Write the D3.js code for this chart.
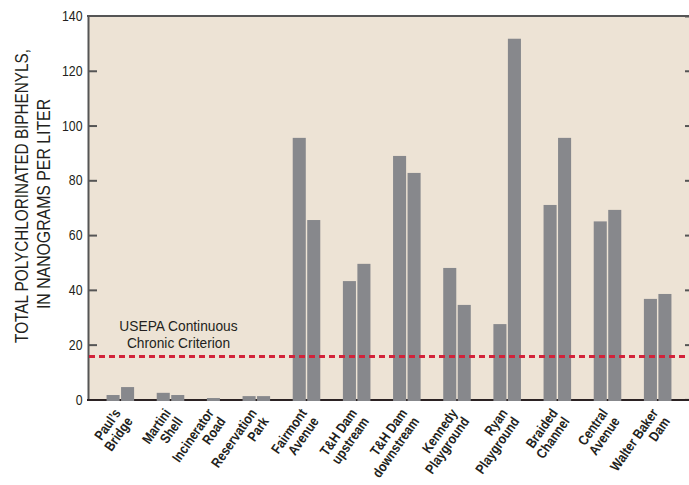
<!DOCTYPE html>
<html><head><meta charset="utf-8">
<script src="https://cdn.jsdelivr.net/npm/d3@7"></script>
<style>
html,body{margin:0;padding:0;background:#fff;}
svg{display:block;font-family:"Liberation Sans",Arial,sans-serif;}
</style></head><body><svg id="chart" width="689" height="485"></svg>
<script>
// Sampling sites (two-line labels) and total PCB concentrations, ng/L
const sites = [
  ["Paul\u2019s", "Bridge"],
  ["Martini", "Shell"],
  ["Incinerator", "Road"],
  ["Reservation", "Park"],
  ["Fairmont", "Avenue"],
  ["T&H Dam", "upstream"],
  ["T&H Dam", "downstream"],
  ["Kennedy", "Playground"],
  ["Ryan", "Playground"],
  ["Braided", "Channel"],
  ["Central", "Avenue"],
  ["Walter Baker", "Dam"]
];
const sample1 = [1.6, 2.4, 0.5, 1.2, 95.5, 43.2, 88.9, 48.0, 27.5, 71.0, 65.0, 36.7];
const sample2 = [4.5, 1.6, null, 1.2, 65.5, 49.5, 82.7, 34.5, 131.7, 95.5, 69.2, 38.5];
const yTicks = [0, 20, 40, 60, 80, 100, 120, 140];
const criterion = 15.7;
const criterionLabel = ["USEPA Continuous", "Chronic Criterion"];
const yTitle = ["TOTAL POLYCHLORINATED BIPHENYLS,", "IN NANOGRAMS PER LITER"];

const W = 689, H = 485;
const plot = {left: 88, top: 16, right: 694, bottom: 400};
const ink = "#231f20", frame = "#555";
const NARROW = "scale(0.85,1)";   // condensed lettering
const svg = d3.select("#chart");

// Each reported value takes one slot; sites are separated by an extra gap
const GAP = 1.46, BAR = 0.9;
const bars = [], groups = [];
let u = 0;
sites.forEach((lines, i) => {
  const start = u;
  let n = 0;
  [sample1[i], sample2[i]].forEach((v, j) => {
    if (v != null) { bars.push({site: i, series: j, value: v, u: u}); u += 1; n++; }
  });
  groups.push({lines, mid: start + (n - (1 - BAR)) / 2});
  u += GAP;
});
const span = u - GAP - (1 - BAR);

const x = d3.scaleLinear().domain([-1.28, span + 1.28]).range([plot.left, 690]);
const y = d3.scaleLinear().domain([0, 140]).range([399.4, plot.top]);

// plot background
svg.append("rect")
  .attr("x", plot.left).attr("y", plot.top)
  .attr("width", W - plot.left).attr("height", plot.bottom - plot.top)
  .attr("fill", "#ede3d5");

// left axis with inward ticks
const left = svg.append("g").attr("transform", `translate(${plot.left},0)`)
  .call(d3.axisLeft(y).tickValues(yTicks).tickSizeInner(-9).tickSizeOuter(0).tickPadding(5));
left.select(".domain").attr("stroke", frame).attr("stroke-width", 2);
left.selectAll(".tick line").attr("stroke", frame).attr("stroke-width", 2)
  .filter(d => d === 0 || d === 140).remove();
left.selectAll(".tick text")
  .attr("fill", ink).attr("font-size", 14.5)
  .attr("font-family", "Liberation Sans, Arial, sans-serif")
  .attr("x", 0).attr("transform", `translate(-5.5,0) ${NARROW}`);

// right axis (inward ticks only)
const right = svg.append("g").attr("transform", `translate(${plot.right},0)`)
  .call(d3.axisRight(y).tickValues(yTicks).tickSizeInner(-9).tickSizeOuter(0).tickFormat(""));
right.select(".domain").remove();
right.selectAll(".tick line").attr("stroke", frame).attr("stroke-width", 2);

// top and bottom frame lines
svg.append("line").attr("x1", plot.left - 1).attr("x2", W).attr("y1", plot.top).attr("y2", plot.top)
  .attr("stroke", frame).attr("stroke-width", 2);
svg.append("line").attr("x1", plot.left - 1).attr("x2", W).attr("y1", plot.bottom).attr("y2", plot.bottom)
  .attr("stroke", "#2b2223").attr("stroke-width", 2);

// bars
svg.append("g").selectAll("rect").data(bars).join("rect")
  .attr("x", d => x(d.u))
  .attr("width", d => x(d.u + BAR) - x(d.u))
  .attr("y", d => y(d.value))
  .attr("height", d => plot.bottom + 1 - y(d.value))
  .attr("fill", "#87888c");

// criterion line
svg.append("line")
  .attr("x1", plot.left + 1).attr("x2", W)
  .attr("y1", y(criterion)).attr("y2", y(criterion))
  .attr("stroke", "#d2233a").attr("stroke-width", 3)
  .attr("stroke-dasharray", "6,4");

svg.append("g").attr("transform", "translate(178.5,331) scale(0.95,1)")
  .append("text").attr("text-anchor", "middle").attr("font-size", 14.5).attr("fill", ink)
  .selectAll("tspan").data(criterionLabel).join("tspan")
  .attr("x", 0).attr("dy", (d, i) => i ? 17 : 0).text(d => d);

// y-axis title
yTitle.forEach((t, i) => {
  svg.append("text")
    .attr("transform", `translate(${i ? 49.5 : 27.5},${i ? 204 : 196}) rotate(-90) scale(${i ? 0.88 : 0.85},1)`)
    .attr("text-anchor", "middle").attr("font-size", 18).attr("fill", ink)
    .text(t);
});

// site labels, rotated
const lab = svg.append("g").selectAll("g").data(groups).join("g")
  .attr("transform", d => `translate(${x(d.mid) + 1},413) rotate(-55) ${NARROW}`);
lab.append("text").attr("text-anchor", "end").attr("font-size", 14)
  .attr("font-weight", "bold").attr("fill", ink)
  .selectAll("tspan").data(d => d.lines).join("tspan")
  .attr("x", 0).attr("dy", (d, i) => i ? 14.5 : 0).text(d => d);
</script></body></html>
